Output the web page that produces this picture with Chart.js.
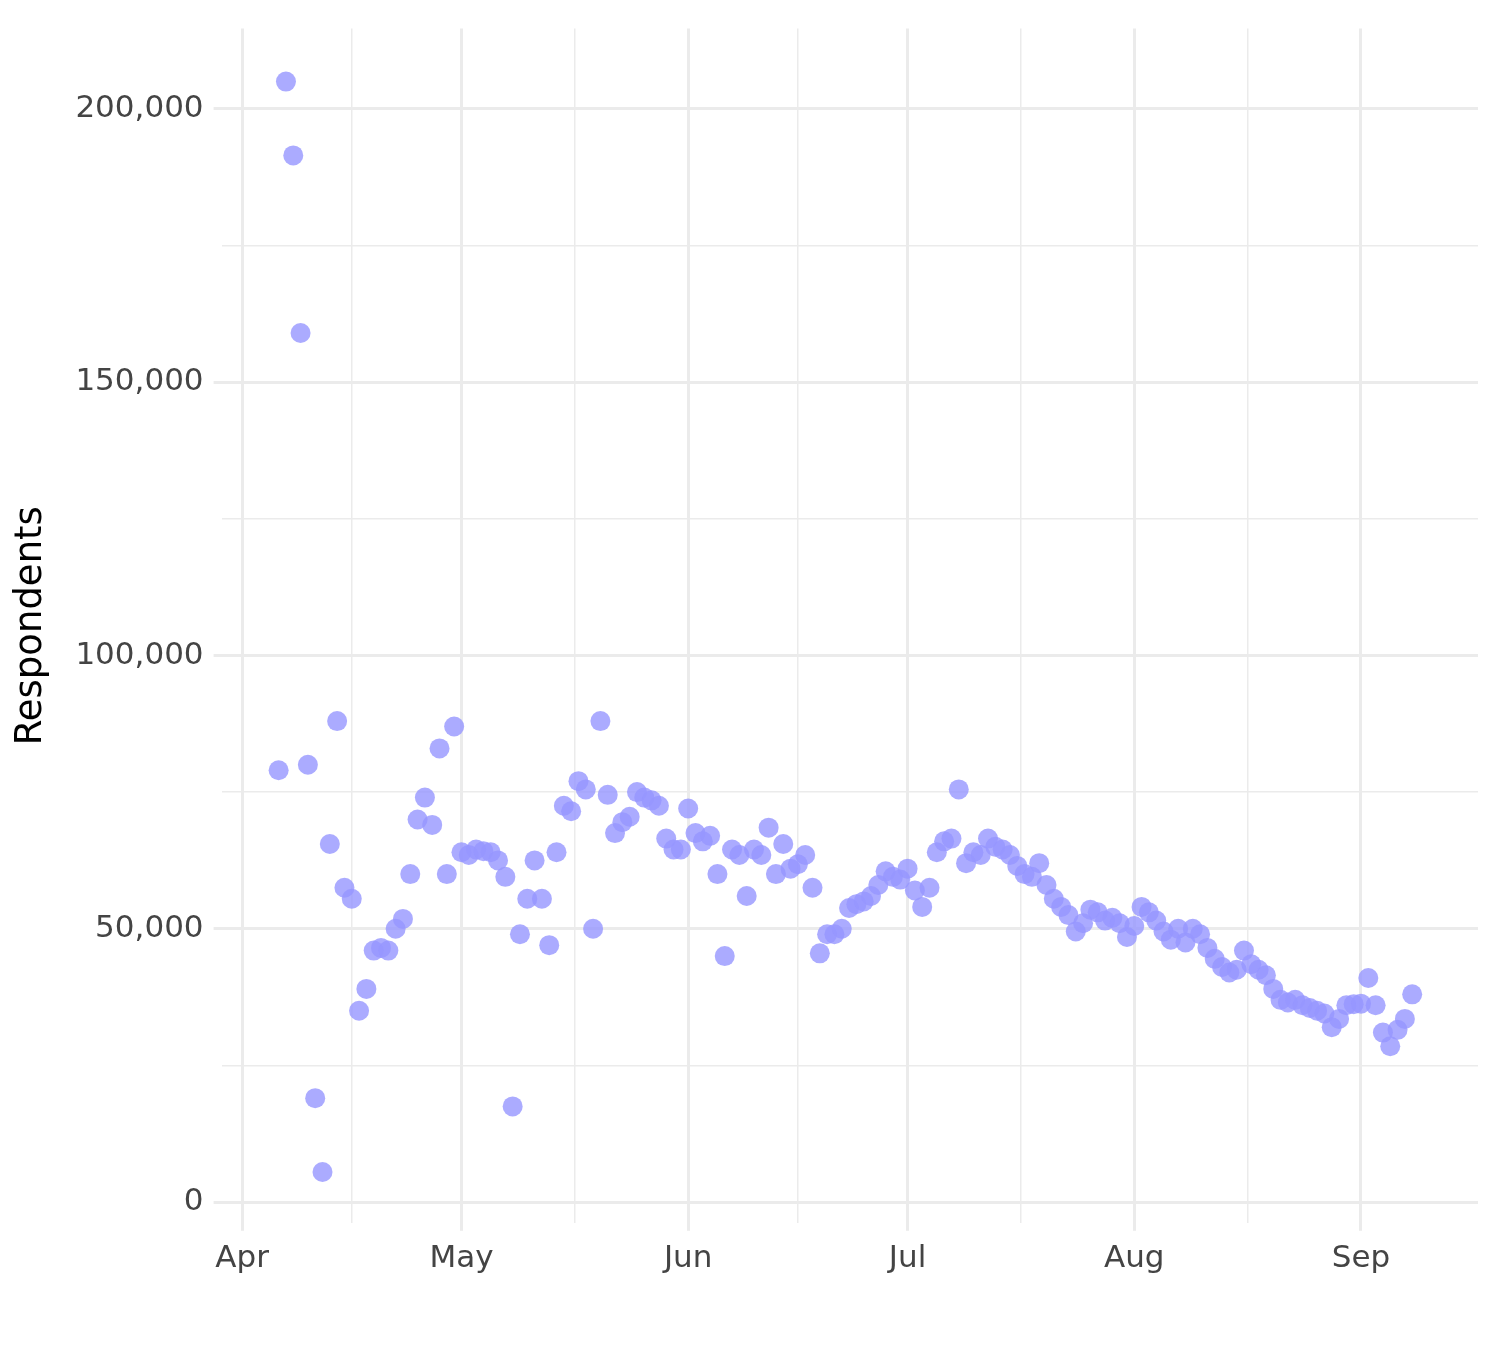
<!DOCTYPE html>
<html><head><script src="https://cdn.jsdelivr.net/npm/chart.js@4"></script>
<style>body{margin:0;background:#fff}#w{width:1500px;height:1350px}</style></head>
<body><div id="w"><canvas id="c"></canvas></div>
<script>
const startDayOffset = 5; // first point Apr 6 (days after Apr 1)
const respondents = [79000,205000,191500,159000,80000,19000,5500,65500,88000,57500,55500,35000,39000,46000,46500,46000,50000,51800,60000,70000,74000,69000,83000,60000,87000,
64000,63500,64500,64200,64000,62500,59500,17500,49000,55500,62500,55500,47000,64000,72500,71500,77000,75500,50000,88000,74500,67500,69500,70500,75000,74000,73500,72500,66500,64500,64500,
72000,67500,66000,67000,60000,45000,64500,63500,56000,64500,63500,68500,60000,65500,61000,61800,63500,57500,45500,49000,49000,50000,53800,54500,55000,56000,58000,60500,59500,59000,
61000,57000,54000,57500,64000,66000,66500,75500,62000,64000,63500,66500,65000,64500,63500,61500,60000,59500,62000,58000,55500,54000,52500,49500,51000,53500,53000,51500,52000,51000,48500,
50500,54000,53000,51500,49500,48000,50000,47500,50000,49000,46500,44500,43000,42000,42500,46000,43500,42500,41500,39000,37000,36500,37000,36000,35500,35000,34500,32000,33500,
36000,36200,36300,41000,36000,31000,28500,31500,33500,38000];
const monthLabels = ['Apr','May','Jun','Jul','Aug','Sep'];
const monthStarts = [0,30,61,91,122,153];
const minorTicks = [15,45.5,76,106.5,137.5];
const yLabelTicks = [0,50000,100000,150000,200000];

const pts = respondents.map((v,i)=>({x:startDayOffset+i,y:v}));
new Chart(document.getElementById('c'),{
 type:'scatter',
 data:{datasets:[{data:pts,backgroundColor:'rgba(150,150,255,0.8)',borderWidth:0,pointRadius:10,pointHoverRadius:10}]},
 options:{responsive:true,maintainAspectRatio:false,animation:false,
  layout:{padding:{left:5,right:22,top:14,bottom:62}},
  plugins:{legend:{display:false},tooltip:{enabled:false}},
  scales:{
   x:{type:'linear',min:-2.8,max:169,
     afterBuildTicks:a=>{a.ticks=[...monthStarts,...minorTicks].sort((p,q)=>p-q).map(v=>({value:v}));},
     ticks:{autoSkip:false,maxRotation:0,font:{size:31,family:'DejaVu Sans'},color:'#444',padding:10,
       callback:v=>{const k=monthStarts.indexOf(v);return k>=0?monthLabels[k]:'';}},
     grid:{color:'#ebebeb',lineWidth:c=>monthStarts.includes(c.tick&&c.tick.value)?3:1.5,drawTicks:true,tickLength:8,tickColor:c=>monthStarts.includes(c.tick&&c.tick.value)?'#ebebeb':'rgba(0,0,0,0)'},
     border:{display:false}},
   y:{min:-3800,max:214700,
     afterBuildTicks:a=>{const t=[];for(let v=0;v<=200000;v+=25000)t.push({value:v});a.ticks=t;},
     title:{display:true,text:'Respondents',font:{size:37,family:'DejaVu Sans'},color:'#000',padding:{bottom:12}},
     ticks:{font:{size:31,family:'DejaVu Sans'},color:'#444',padding:10,
       callback:v=>yLabelTicks.includes(v)?v.toLocaleString('en-US'):''},
     grid:{color:'#ebebeb',lineWidth:c=>yLabelTicks.includes(c.tick&&c.tick.value)?3:1.5,tickLength:8,tickColor:c=>yLabelTicks.includes(c.tick&&c.tick.value)?'#ebebeb':'rgba(0,0,0,0)'},
     border:{display:false}}
  }}
});
</script></body></html>
